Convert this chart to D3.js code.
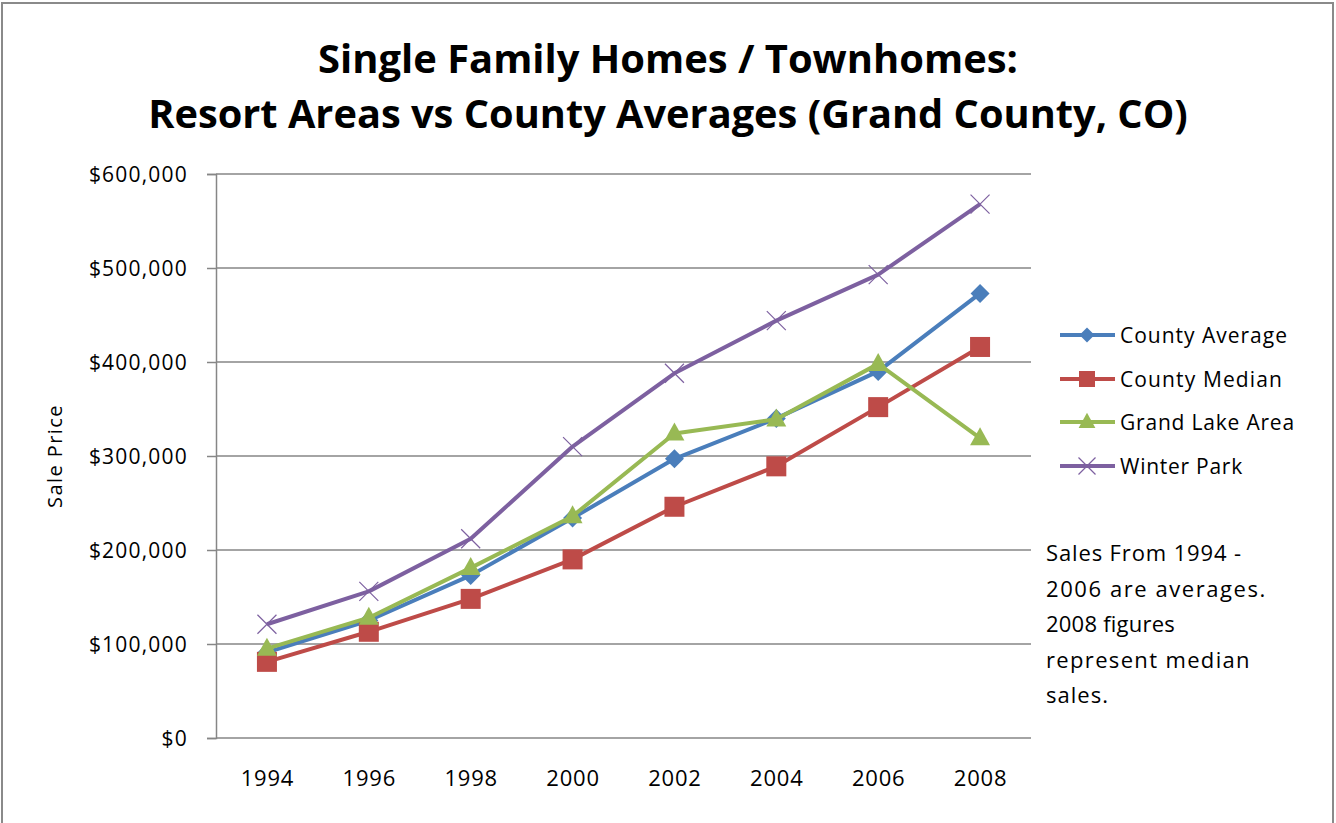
<!DOCTYPE html>
<html><head><meta charset="utf-8">
<script src="https://cdn.jsdelivr.net/npm/d3@7/dist/d3.min.js"></script>
<style>body{margin:0;background:#fff}svg{display:block}text{font-family:"Open Sans",Lato,sans-serif}</style>
</head><body>
<svg id="c" width="1336" height="823"></svg>
<script>
const years = ["1994","1996","1998","2000","2002","2004","2006","2008"];
const countyAverage = [91000,125000,173000,234000,297000,340000,390000,473000];
const countyMedian  = [81000,113000,148000,190000,246000,289000,352000,416000];
const grandLake     = [95000,128000,181000,236000,324000,339000,398000,319000];
const winterPark    = [121000,156000,212000,310000,388000,444000,493000,568000];
const yTicks = [0,100000,200000,300000,400000,500000,600000];
const seriesNames = ["County Average","County Median","Grand Lake Area","Winter Park"];
const seriesColors = ["#4A7EBB","#BE4B48","#98B954","#7D60A0"];
const seriesMarkers = ["diamond","square","triangle","x"];
const seriesValues = [countyAverage,countyMedian,grandLake,winterPark];
const titleLines = ["Single Family Homes / Townhomes:","Resort Areas vs County Averages (Grand County, CO)"];
const noteLines = ["Sales From 1994 -","2006 are averages.","2008 figures","represent median","sales."];

const svg = d3.select("#c");
svg.append("rect").attr("x",2).attr("y",3).attr("width",1331).attr("height",830)
  .attr("fill","none").attr("stroke","#8a8a8a").attr("stroke-width",2);

const L=216,R=1031,T=174,B=738;
const x = d3.scalePoint().domain(years).range([L,R]).padding(0.5);
const y = d3.scaleLinear().domain([0,600000]).range([B,T]);

// spread letters so a text's width matches the reference
function fit(el, target){
  const n = el.text().length;
  const w = el.node().getComputedTextLength();
  el.attr("letter-spacing", ((target - w)/n).toFixed(2));
}

// title
const titleTargets=[{y:60,w:700},{y:115,w:1040}];
titleLines.forEach((t,i)=>{
  const el=svg.append("text").attr("x",668).attr("y",titleTargets[i].y+13).attr("text-anchor","middle")
    .attr("font-weight","bold").attr("font-size",38).attr("fill","#000")
    .attr("font-family","Lato,sans-serif").text(t);
  const w=el.node().getComputedTextLength();
  el.attr("font-size",38*titleTargets[i].w/w);
});

// gridlines
svg.append("g").selectAll("line").data(yTicks.filter(d=>d>0)).join("line")
  .attr("x1",L).attr("x2",R).attr("y1",d=>y(d)).attr("y2",d=>y(d))
  .attr("stroke","#868686").attr("stroke-width",1.5);

// y axis
const ya = svg.append("g").attr("transform",`translate(${L},0)`)
  .call(d3.axisLeft(y).tickValues(yTicks).tickSize(9).tickPadding(19).tickFormat(d=>"$"+d3.format(",")(d)));
ya.select(".domain").attr("stroke","#868686").attr("stroke-width",1.5);
ya.selectAll(".tick line").attr("stroke","#868686").attr("stroke-width",1.5);
ya.selectAll(".tick text").attr("font-size",21).attr("fill","#000")
  .attr("font-family","'Open Sans',sans-serif").attr("letter-spacing",1.2).attr("dy","0.36em");

// x axis
const xa = svg.append("g").attr("transform",`translate(0,${B})`)
  .call(d3.axisBottom(x).tickSize(0).tickPadding(32));
xa.select(".domain").attr("stroke","#868686").attr("stroke-width",1.5).attr("d",`M${L},0H${R}`);
xa.selectAll(".tick text").attr("font-size",22).attr("fill","#000")
  .attr("font-family","'Open Sans',sans-serif").attr("letter-spacing",0.8);

// y title
const yt = svg.append("text").attr("transform","translate(62,456) rotate(-90)").attr("text-anchor","middle")
  .attr("font-size",20).attr("fill","#000").text("Sale Price");
fit(yt,104);

function marker(g,type,color,cx,cy,s){
  if(type==="diamond") g.append("path").attr("d",`M${cx},${cy-s}L${cx+s},${cy}L${cx},${cy+s}L${cx-s},${cy}Z`).attr("fill",color);
  else if(type==="square") g.append("rect").attr("x",cx-s).attr("y",cy-s).attr("width",2*s).attr("height",2*s).attr("fill",color);
  else if(type==="triangle") g.append("path").attr("d",`M${cx},${cy-s*1.15}L${cx+s*1.05},${cy+s*0.75}L${cx-s*1.05},${cy+s*0.75}Z`).attr("fill",color);
  else g.append("path").attr("d",`M${cx-s},${cy-s}L${cx+s},${cy+s}M${cx+s},${cy-s}L${cx-s},${cy+s}`).attr("stroke",color).attr("stroke-width",1.2).attr("fill","none");
}

const line = d3.line().x((d,i)=>x(years[i])).y(d=>y(d));
seriesValues.forEach((vals,si)=>{
  const g=svg.append("g");
  g.append("path").attr("d",line(vals)).attr("fill","none").attr("stroke",seriesColors[si])
    .attr("stroke-width",4).attr("stroke-linejoin","round");
  const sizes={diamond:9.5,square:10,triangle:9.5,x:9.5};
  vals.forEach((v,i)=>marker(g,seriesMarkers[si],seriesColors[si],x(years[i]),y(v),sizes[seriesMarkers[si]]));
});

// legend
const legY=[335,379,422,466];
const legW=[168,163,175,123];
seriesNames.forEach((n,i)=>{
  const g=svg.append("g");
  g.append("line").attr("x1",1060).attr("x2",1115).attr("y1",legY[i]).attr("y2",legY[i])
    .attr("stroke",seriesColors[i]).attr("stroke-width",4);
  const s={diamond:7.5,square:8,triangle:8,x:8.5}[seriesMarkers[i]];
  marker(g,seriesMarkers[i],seriesColors[i],1087,legY[i],s);
  const t=g.append("text").attr("x",1120).attr("y",legY[i]+8).attr("font-size",21).attr("fill","#000").text(n);
  fit(t,legW[i]);
});

// note
const noteW=[196,221,129,205,63];
noteLines.forEach((t,i)=>{
  const el=svg.append("text").attr("x",1046).attr("y",561+i*35.5).attr("font-size",22).attr("fill","#000").text(t);
  fit(el,noteW[i]);
});
</script>
</body></html>
